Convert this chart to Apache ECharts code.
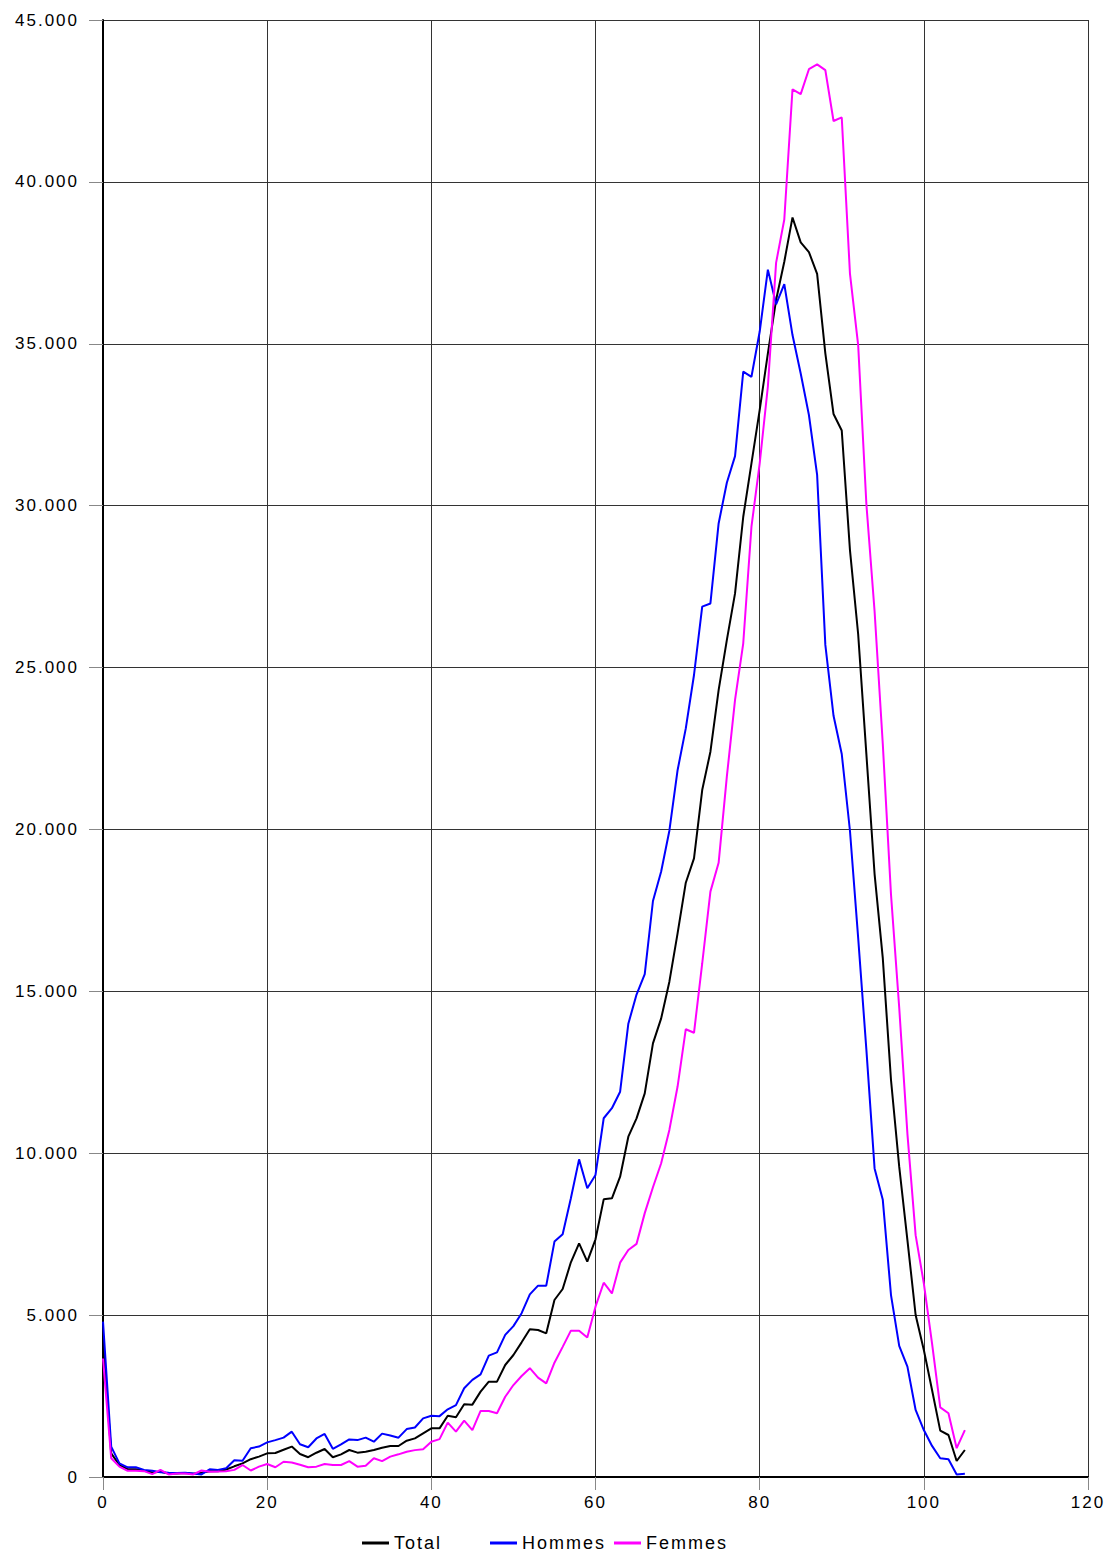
<!DOCTYPE html>
<html>
<head>
<meta charset="utf-8">
<script src="https://cdn.jsdelivr.net/npm/echarts@6/dist/echarts.min.js"></script>
<style>
html,body{margin:0;padding:0;background:#fff;}
#chart{width:1112px;height:1558px;}
#chart text{letter-spacing:2px;}
</style>
</head>
<body>
<div id="chart"></div>
<script>
// Ages 0..105 (one value per year of age)
const seriesNames = ['Total', 'Hommes', 'Femmes'];
const xTicks = [0, 20, 40, 60, 80, 100, 120];
const yTicks = [0, 5000, 10000, 15000, 20000, 25000, 30000, 35000, 40000, 45000];

const total = [
  4250, 730, 370, 240, 240, 190, 140, 160, 110, 110,
  120, 100, 130, 180, 180, 230, 330, 420, 550, 630,
  730, 740, 840, 940, 710, 610, 750, 865, 610, 700,
  834, 752, 783, 834, 906, 958, 958, 1122, 1194, 1349,
  1503, 1503, 1894, 1843, 2245, 2235, 2636, 2944, 2944, 3459,
  3768, 4159, 4561, 4540, 4437, 5466, 5806, 6631, 7217, 6650,
  7341, 8575, 8606, 9275, 10510, 11077, 11849, 13393, 14165, 15298,
  16790, 18355, 19106, 21217, 22401, 24305, 25849, 27291, 29658, 31305,
  32952, 34702, 36350, 37534, 38902, 38131, 37832, 37160, 34702, 32830,
  32320, 28629, 26029, 22326, 18623, 16023, 12261, 9584, 7319, 5003,
  3922, 2687, 1431, 1297, 494, 834
];
const hommes = [
  4800, 940, 420, 300, 300, 220, 190, 150, 130, 120,
  130, 110, 80, 240, 220, 270, 520, 500, 890, 940,
  1070, 1140, 1215, 1400, 1010, 920, 1190, 1330, 870, 1010,
  1160, 1140, 1215, 1090, 1340, 1280, 1215, 1480, 1530, 1810,
  1890, 1880, 2090, 2220, 2740, 3000, 3170, 3750, 3850, 4390,
  4660, 5060, 5640, 5910, 5910, 7270, 7500, 8610, 9810, 8920,
  9330, 11080, 11390, 11900, 14000, 14900, 15530, 17790, 18700, 19960,
  21830, 23120, 24770, 26880, 26980, 29450, 30710, 31530, 34140, 33980,
  35370, 37290, 36220, 36840, 35270, 34080, 32800, 30950, 25700, 23510,
  22330, 19960, 16650, 13200, 9530, 8560, 5620, 4050, 3410, 2070,
  1450, 960, 580, 550, 80, 100
];
const femmes = [
  3660, 580, 320, 190, 190, 180, 90, 220, 80, 110,
  110, 80, 200, 165, 170, 180, 220, 370, 200, 320,
  400, 300, 470, 450, 380, 300, 320, 400, 370, 370,
  490, 320, 350, 580, 490, 630, 700, 780, 830, 860,
  1090, 1170, 1680, 1400, 1740, 1450, 2040, 2040, 1970, 2480,
  2840, 3120, 3360, 3070, 2890, 3530, 4020, 4520, 4520, 4310,
  5260, 6000, 5670, 6620, 7010, 7200, 8150, 8950, 9690, 10720,
  12060, 13830, 13720, 15860, 18080, 18970, 21630, 24000, 25750, 29350,
  31300, 33680, 37500, 38840, 42860, 42710, 43480, 43630, 43450, 41880,
  41990, 37170, 34960, 30050, 26740, 22640, 17990, 14500, 10600, 7470,
  5980, 4130, 2150, 1970, 890, 1450
];

const colors = ['#000000', '#0000ff', '#ff00ff'];
const pairs = arr => arr.map((v, i) => [i, v]);
const fmt = v => {
  const s = String(Math.round(v));
  return s.replace(/\B(?=(\d{3})+(?!\d))/g, '.');
};
const font = 'Liberation Sans, Arial, sans-serif';

const chart = echarts.init(document.getElementById('chart'), null, {renderer: 'svg'});
const legendBase = {
  orient: 'horizontal', top: 1534, itemWidth: 27, itemHeight: 3, icon: 'rect',
  textStyle: {fontFamily: font, fontSize: 18, color: '#000'}, padding: 0
};
chart.setOption({
  animation: false,
  backgroundColor: '#fff',
  color: colors,
  grid: {left: 103, right: 24, top: 20, bottom: 81, containLabel: false},
  legend: [
    Object.assign({}, legendBase, {left: 362, data: [seriesNames[0]]}),
    Object.assign({}, legendBase, {left: 490, data: [seriesNames[1]]}),
    Object.assign({}, legendBase, {left: 614, data: [seriesNames[2]]})
  ],
  xAxis: {
    type: 'value', min: xTicks[0], max: xTicks[xTicks.length - 1], interval: 20,
    axisLine: {show: true, onZero: false, lineStyle: {color: '#000', width: 2}},
    axisTick: {show: true, inside: false, length: 13, lineStyle: {color: '#888', width: 1}},
    axisLabel: {fontFamily: font, fontSize: 17, color: '#000', margin: 17},
    splitLine: {show: true, lineStyle: {color: '#333', width: 1}}
  },
  yAxis: {
    type: 'value', min: yTicks[0], max: yTicks[yTicks.length - 1], interval: 5000,
    axisLine: {show: true, onZero: false, lineStyle: {color: '#000', width: 2}},
    axisTick: {show: true, inside: false, length: 14, lineStyle: {color: '#888', width: 1}},
    axisLabel: {fontFamily: font, fontSize: 17, color: '#000', margin: 24, formatter: fmt},
    splitLine: {show: true, lineStyle: {color: '#333', width: 1}}
  },
  series: [
    {name: seriesNames[0], type: 'line', data: pairs(total), showSymbol: false, symbol: 'none',
     lineStyle: {color: colors[0], width: 2}, itemStyle: {color: colors[0]}},
    {name: seriesNames[1], type: 'line', data: pairs(hommes), showSymbol: false, symbol: 'none',
     lineStyle: {color: colors[1], width: 2}, itemStyle: {color: colors[1]}},
    {name: seriesNames[2], type: 'line', data: pairs(femmes), showSymbol: false, symbol: 'none',
     lineStyle: {color: colors[2], width: 2}, itemStyle: {color: colors[2]}}
  ]
});
</script>
</body>
</html>
